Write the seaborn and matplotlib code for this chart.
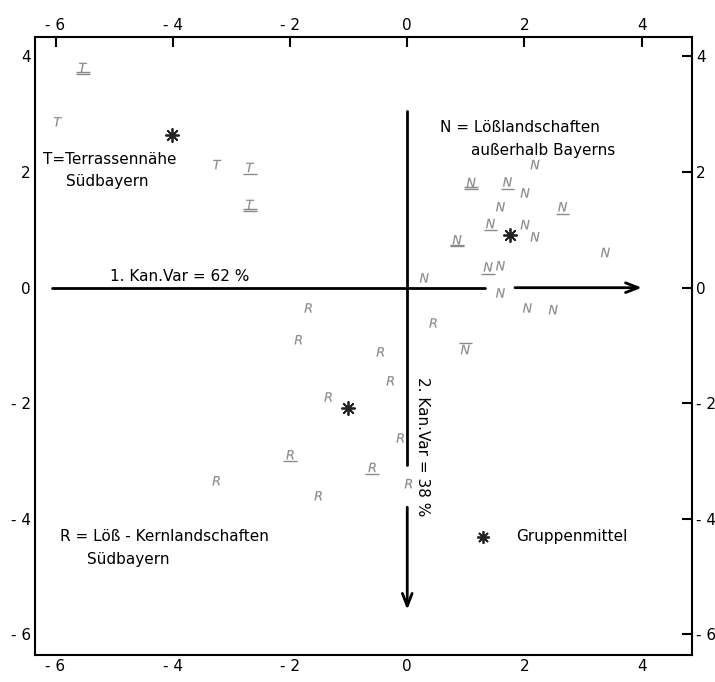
import numpy as np
import pandas as pd
import matplotlib
matplotlib.use("Agg")
import matplotlib.pyplot as plt
from matplotlib.path import Path
import seaborn as sns

# DATA

# T = Terrassennähe Südbayern
t_x = [-5.53, -5.96, -3.24, -2.68, -2.68]
t_y = [3.81, 2.87, 2.13, 2.08, 1.44]
t_bar = ["2", "", "", "1", "2"]

# N = Lößlandschaften außerhalb Bayerns
n_x = [0.29, 2.18, 1.09, 1.71, 2.01, 1.59, 2.65, 1.42, 2.01, 2.18,
       0.85, 3.38, 1.38, 1.59, 1.59, 2.05, 2.49, 0.99]
n_y = [0.17, 2.13, 1.82, 1.83, 1.64, 1.40, 1.40, 1.11, 1.09, 0.88,
       0.83, 0.61, 0.36, 0.38, -0.09, -0.35, -0.38, -1.07]
n_bar = ["", "", "2", "1", "", "", "1", "1", "", "",
         "2", "", "1", "", "", "", "", "o"]

# R = Löß-Kernlandschaften Südbayern
r_x = [-1.69, -1.86, -0.46, 0.44, -0.29, -1.35, -0.12, -2.00, -0.60,
       0.02, -3.26, -1.52]
r_y = [-0.35, -0.90, -1.11, -0.61, -1.61, -1.89, -2.60, -2.89, -3.11,
       -3.39, -3.34, -3.60]
r_bar = ["", "", "", "", "", "", "", "1", "1", "", "", ""]

# group means (Gruppenmittel)
mean_group = ["T", "N", "R"]
mean_x = [-4.01, 1.76, -1.01]
mean_y = [2.65, 0.92, -2.08]

ticks = [-6, -4, -2, 0, 2, 4]
tick_labels = ["- 6", "- 4", "- 2", "0", "2", "4"]

# BUILD TABLE

df = pd.concat([
    pd.DataFrame({"x": t_x, "y": t_y, "group": "T", "bar": t_bar}),
    pd.DataFrame({"x": n_x, "y": n_y, "group": "N", "bar": n_bar}),
    pd.DataFrame({"x": r_x, "y": r_y, "group": "R", "bar": r_bar}),
], ignore_index=True)

means = pd.DataFrame({"x": mean_x, "y": mean_y, "group": mean_group})

# PLOT

sns.set_style("white")
plt.rcParams["font.family"] = ["DejaVu Sans"]
plt.rcParams["text.color"] = "black"
plt.rcParams["xtick.color"] = "black"
plt.rcParams["ytick.color"] = "black"

fig = plt.figure(figsize=(7.15, 6.82), dpi=100)
ax = fig.add_axes([0.049, 0.040, 0.919, 0.906])

letter_col = "#8a8a8a"

sns.scatterplot(
    data=df, x="x", y="y",
    style="group",
    markers={"T": "$T$", "N": "$N$", "R": "$R$"},
    color=letter_col, edgecolor=letter_col, linewidth=0.1,
    s=45, legend=False, ax=ax,
)

# under-/overlines of the letters
bar_paths = {
    "1": Path([[-1, -1], [1, -1]], [Path.MOVETO, Path.LINETO]),
    "2": Path([[-1, -0.72], [1, -0.72], [-1, -1], [1, -1]],
              [Path.MOVETO, Path.LINETO, Path.MOVETO, Path.LINETO]),
    "o": Path([[-1, 1], [1, 1]], [Path.MOVETO, Path.LINETO]),
}
bars = df[df["bar"] != ""]
sns.scatterplot(
    data=bars, x="x", y="y",
    style="bar", markers=bar_paths,
    color=letter_col, edgecolor=letter_col, linewidth=1.0,
    s=95, legend=False, ax=ax,
)

sns.scatterplot(
    data=means, x="x", y="y",
    marker=(8, 2, 0), color="#222222", linewidth=1.3,
    s=90, legend=False, ax=ax,
)
# key symbol for "Gruppenmittel"
ax.plot([1.30], [-4.31], marker=(8, 2, 0), color="#222222",
        markersize=9, mew=1.3, linestyle="none")

# axes arrows
ax.plot([-6.06, 1.33], [0, 0], color="black", lw=2)
ax.annotate("", xy=(4.05, 0), xytext=(1.79, 0),
            arrowprops=dict(arrowstyle="->,head_length=0.9,head_width=0.35",
                            color="black", lw=2))
ax.plot([0, 0], [3.05, -3.06], color="black", lw=2)
ax.annotate("", xy=(0, -5.62), xytext=(0, -3.75),
            arrowprops=dict(arrowstyle="->,head_length=0.9,head_width=0.35",
                            color="black", lw=2))

# texts
fs = 11
ax.text(-5.07, 0.07, "1. Kan.Var = 62 %", fontsize=fs, va="bottom")
ax.text(0.13, -1.55, "2. Kan.Var = 38 %", fontsize=fs, rotation=-90,
        va="top", ha="left")
ax.text(0.56, 2.77, "N = Lößlandschaften", fontsize=fs, va="center")
ax.text(1.08, 2.38, "außerhalb Bayerns", fontsize=fs, va="center")
ax.text(-6.22, 2.21, "T=Terrassennähe", fontsize=fs, va="center")
ax.text(-5.82, 1.83, "Südbayern", fontsize=fs, va="center")
ax.text(-5.92, -4.31, "R = Löß - Kernlandschaften", fontsize=fs, va="center")
ax.text(-5.46, -4.71, "Südbayern", fontsize=fs, va="center")
ax.text(1.86, -4.31, "Gruppenmittel", fontsize=fs, va="center")

# frame and ticks
ax.set_xlim(-6.35, 4.86)
ax.set_ylim(-6.35, 4.34)
ax.set_xticks(ticks)
ax.set_xticklabels(tick_labels)
ax.set_yticks(ticks)
ax.set_yticklabels(tick_labels)
ax.set_xlabel("")
ax.set_ylabel("")
ax.tick_params(axis="both", direction="in", length=7, width=1.5,
               labelsize=11, top=True, right=True,
               labeltop=True, labelright=True, pad=3)
for s in ax.spines.values():
    s.set_linewidth(1.5)
    s.set_color("black")

fig.savefig("out.png", dpi=100)
